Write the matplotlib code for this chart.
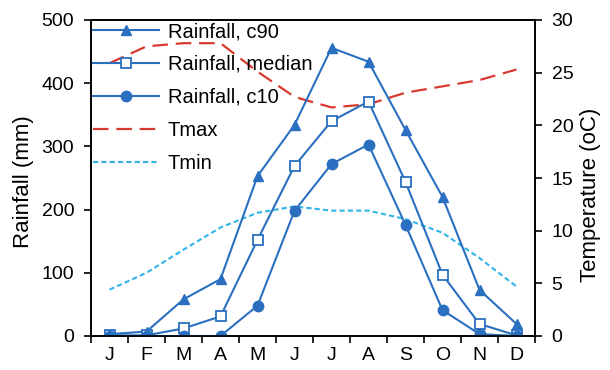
import matplotlib
matplotlib.use("Agg")
import matplotlib.pyplot as plt
import numpy as np

plt.rcParams['font.family'] = ['Liberation Sans', 'DejaVu Sans']

months = ["J", "F", "M", "A", "M", "J", "J", "A", "S", "O", "N", "D"]
rain_c90 = [3, 7, 58, 90, 253, 334, 456, 434, 326, 220, 73, 19]
rain_median = [1, 1, 12, 31, 152, 269, 340, 371, 244, 97, 19, 1]
rain_c10 = [0, 0, 0, 0, 48, 198, 272, 303, 176, 41, 3, 0]
tmax = [25.9, 27.5, 27.8, 27.8, 25.1, 22.7, 21.7, 22.0, 23.1, 23.7, 24.3, 25.3]
tmin = [4.4, 6.0, 8.2, 10.3, 11.7, 12.3, 11.9, 11.9, 11.1, 9.8, 7.4, 4.7]

blue = "#2a6fc0"
red = "#d93a30"
lblue = "#33b4e8"

fig = plt.figure(figsize=(6.1, 3.7), dpi=100)
ax = fig.add_axes([91/610, 1 - 336/370, 444/610, 316/370])
ax2 = ax.twinx()

x = np.arange(len(months))
l1, = ax.plot(x, rain_c90, color=blue, lw=1.5, marker="^", ms=6.5, label="Rainfall, c90")
l2, = ax.plot(x, rain_median, color=blue, lw=1.5, marker="s", ms=6.5, mfc="white", mew=1.3, label="Rainfall, median")
l3, = ax.plot(x, rain_c10, color=blue, lw=1.5, marker="o", ms=7.5, label="Rainfall, c10")
l4, = ax2.plot(x, tmax, color=red, lw=1.6, ls=(0, (7, 3.5)), label="Tmax")
l5, = ax2.plot(x, tmin, color=lblue, lw=1.5, ls=(0, (2.5, 1.5)), label="Tmin")

ax.set_zorder(ax2.get_zorder() + 1)
ax.patch.set_visible(False)

ax.set_xlim(-0.5, 11.5)
ax.set_ylim(0, 500)
ax2.set_ylim(0, 30)
ax.set_yticks([0, 100, 200, 300, 400, 500])
ax2.set_yticks([0, 5, 10, 15, 20, 25, 30])

ax.set_xticks(np.arange(-0.5, 12, 1))
ax.set_xticklabels([])
ax.set_xticks(x, minor=True)
ax.set_xticklabels(months, minor=True)
ax.tick_params(axis="x", which="minor", length=0, labelsize=14, pad=8)
ax.tick_params(axis="x", which="major", length=5, width=1.2, direction="out")
ax.tick_params(axis="y", length=5, width=1.2, labelsize=14, direction="out", pad=7)
ax2.tick_params(axis="y", length=5, width=1.2, labelsize=14, direction="out", pad=7)

for a in (ax, ax2):
    for s in a.spines.values():
        s.set_linewidth(1.2)

ax.set_ylabel("Rainfall (mm)", fontsize=16)
ax2.set_ylabel("Temperature (oC)", fontsize=16)
ax.yaxis.set_label_coords(-0.128, 0.489)
ax2.yaxis.set_label_coords(1.101, 0.448)

leg = ax.legend(handles=[l1, l2, l3, l4, l5], loc="upper left", frameon=False,
                fontsize=14.5, handlelength=3.3, labelspacing=0.69,
                borderaxespad=0.0, borderpad=0.1, handletextpad=0.4,
                bbox_to_anchor=(0.0, 1.0))

fig.savefig("out.png", dpi=100)
